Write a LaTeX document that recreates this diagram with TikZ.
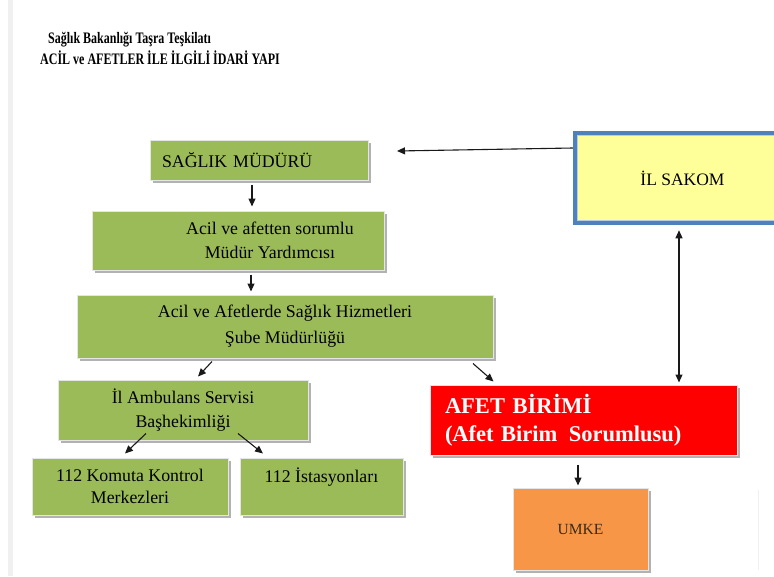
\documentclass[tikz,border=0pt]{standalone}
\usepackage{fontspec}
\setmainfont{Liberation Serif}
\newfontfamily\cf{Liberation Serif}
\newfontfamily\tf[FakeStretch=0.75]{Liberation Serif}
\usetikzlibrary{shadows,arrows.meta}
\definecolor{ogreen}{HTML}{9BBB59}
\definecolor{ored}{HTML}{FF0000}
\definecolor{oorange}{HTML}{F79646}
\definecolor{oyellow}{HTML}{FFFF99}
\definecolor{oblue}{HTML}{4F81BD}
\definecolor{lblue}{HTML}{B8CCE4}
\definecolor{umtext}{HTML}{3A2A1A}
\begin{document}
\begin{tikzpicture}[x=1pt,y=-1pt,
  box/.style={draw=gray!20, line width=1pt, inner sep=0pt,
    drop shadow={shadow xshift=2.5pt, shadow yshift=-3pt, fill=gray!60, opacity=1}},
  gbox/.style={box, fill=ogreen, font=\cf\fontsize{17.8}{25}\selectfont, align=center, text=black},
  btext/.style={font=\cf\fontsize{17.8}{24}\selectfont, align=center, text=black, inner sep=0pt},
  ttl/.style={anchor=base west, inner sep=0pt, font=\tf\bfseries\fontsize{16}{18}\selectfont},
  arr/.style={-{Triangle[length=8pt,width=7pt]}, line width=1.1pt, black!90},
  darr/.style={{Triangle[length=8pt,width=7pt]}-{Triangle[length=8pt,width=7pt]}, line width=1.1pt, black!90},
]
\useasboundingbox (0,0) rectangle (774,576);
\clip (0,0) rectangle (774,576);
\fill[gray!12] (8,0) rectangle (13,576);
\draw[gray!12, line width=1pt] (758,490) -- (758,570);

% title
\node[ttl] (t1) at (48,43) {Sağlık Bakanlığı Taşra Teşkilatı};
\node[ttl] (t2) at (40,64) {ACİL ve AFETLER İLE İLGİLİ İDARİ YAPI};

% boxes
\node[gbox, minimum width=218pt, minimum height=40pt, text width=194pt, align=left] (sm) at (259,160) {SAĞLIK MÜDÜRÜ};
\node[gbox, minimum width=292pt, minimum height=59pt] (my) at (238,240.5) {};
\node[btext] (myt) at (270,240.5) {Acil ve afetten sorumlu\\Müdür Yardımcısı};
\node[gbox, font=\cf\fontsize{17.8}{26}\selectfont, minimum width=416pt, minimum height=63pt] (sb) at (285,326.5) {Acil ve Afetlerde Sağlık Hizmetleri\\Şube Müdürlüğü};
\node[gbox, font=\cf\fontsize{17.8}{24}\selectfont, minimum width=250pt, minimum height=60pt] (ab) at (183,410) {İl Ambulans Servisi\\Başhekimliği};
\node[gbox, font=\cf\fontsize{17.8}{22}\selectfont, minimum width=196pt, minimum height=57pt] (kk) at (130,486.5) {112 Komuta Kontrol\\Merkezleri};
\node[gbox, font=\cf\fontsize{17.8}{22}\selectfont, minimum width=163pt, minimum height=57pt] (ist) at (321.5,486.5) {112 İstasyonları\\\mbox{}};
\node[box, fill=ored, minimum width=307pt, minimum height=70pt, text width=277pt, align=left, text=white, font=\bfseries\fontsize{22.5}{28}\selectfont] (af) at (583.5,420) {AFET BİRİMİ\\(Afet Birim\hspace{4pt} Sorumlusu)};
\node[box, fill=oorange, minimum width=135pt, minimum height=82pt, text=umtext, font=\cf\fontsize{15.5}{20}\selectfont] (um) at (580.5,529) {UMKE};
\node[draw=oblue, line width=4.5pt, fill=oyellow, minimum width=215pt, minimum height=90pt, inner sep=0pt, text=black, font=\cf\fontsize{17.5}{22}\selectfont] (sk) at (682.5,178) {İL SAKOM};
\draw[lblue, line width=1pt] ([shift={(4.5pt,-4.5pt)}]sk.north west) rectangle ([shift={(-4.5pt,4.5pt)}]sk.south east);

% connectors
\coordinate (smend) at (397,151);
\draw[arr] ([yshift=30pt]sk.west) -- (smend);
\draw[arr] ([xshift=-7pt,yshift=-4pt]sm.south) -- ([xshift=14pt,yshift=4pt]my.north);
\draw[arr] ([xshift=13pt,yshift=-4pt]my.south) -- ([xshift=-34pt,yshift=3pt]sb.north);
\draw[arr] ([xshift=-73pt,yshift=-3pt]sb.south) -- ([xshift=15pt,yshift=3pt]ab.north);
\draw[arr] ([xshift=188pt,yshift=-5pt]sb.south) -- ([xshift=-90pt,yshift=3pt]af.north);
\draw[arr] ([xshift=-37pt,yshift=7pt]ab.south) -- ([xshift=-5pt,yshift=4pt]kk.north);
\draw[arr] ([xshift=55pt,yshift=7pt]ab.south) -- ([xshift=-58.5pt,yshift=4pt]ist.north);
\draw[arr] ([xshift=-5.5pt,yshift=-9pt]af.south) -- ([xshift=-2.5pt,yshift=2pt]um.north);
\draw[darr] ([xshift=-3.5pt,yshift=-5pt]sk.south) -- ([xshift=95.5pt,yshift=2pt]af.north);
\end{tikzpicture}
\end{document}
